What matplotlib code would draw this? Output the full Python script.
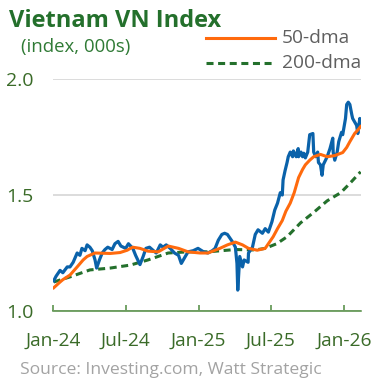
import pandas as pd
import matplotlib.pyplot as plt
import matplotlib.dates as mdates
from matplotlib.lines import Line2D

# VN Index daily close (000s)
index_dates = [
    "2024-01-02", "2024-01-08", "2024-01-18", "2024-01-25", "2024-02-05", "2024-02-12",
    "2024-02-20", "2024-03-01", "2024-03-08", "2024-03-13", "2024-03-21", "2024-03-26",
    "2024-04-02", "2024-04-08", "2024-04-15", "2024-04-19", "2024-04-26", "2024-05-03",
    "2024-05-10", "2024-05-17", "2024-05-28", "2024-06-04", "2024-06-12", "2024-06-19",
    "2024-07-01", "2024-07-08", "2024-07-19", "2024-07-26", "2024-08-06", "2024-08-14",
    "2024-08-21", "2024-08-30", "2024-09-09", "2024-09-16", "2024-09-26", "2024-10-03",
    "2024-10-11", "2024-10-21", "2024-11-01", "2024-11-11", "2024-11-18", "2024-11-28",
    "2024-12-05", "2024-12-18", "2024-12-30", "2025-01-13", "2025-01-24", "2025-02-04",
    "2025-02-11", "2025-02-19", "2025-02-28", "2025-03-07", "2025-03-14", "2025-03-26",
    "2025-04-03", "2025-04-07", "2025-04-09", "2025-04-14", "2025-04-21", "2025-04-25",
    "2025-05-05", "2025-05-06", "2025-05-16", "2025-05-23", "2025-05-30", "2025-06-10",
    "2025-06-17", "2025-06-25", "2025-07-04", "2025-07-11", "2025-07-18", "2025-07-25",
    "2025-07-30", "2025-08-01", "2025-08-06", "2025-08-11", "2025-08-14", "2025-08-19",
    "2025-08-25", "2025-08-27", "2025-09-03", "2025-09-08", "2025-09-09", "2025-09-15",
    "2025-09-19", "2025-09-22", "2025-09-26", "2025-10-02", "2025-10-07", "2025-10-15",
    "2025-10-17", "2025-10-22", "2025-10-27", "2025-10-29", "2025-11-03", "2025-11-07",
    "2025-11-10", "2025-11-20", "2025-11-27", "2025-12-04", "2025-12-05", "2025-12-09",
    "2025-12-15", "2025-12-19", "2025-12-26", "2025-12-29", "2026-01-05", "2026-01-08",
    "2026-01-12", "2026-01-16", "2026-01-21", "2026-01-23", "2026-01-28", "2026-02-02",
    "2026-02-05", "2026-02-10", "2026-02-12",
]
index_vals = [
    1.130, 1.150, 1.175, 1.165, 1.190, 1.190,
    1.210, 1.250, 1.240, 1.270, 1.260, 1.285,
    1.275, 1.260, 1.220, 1.185, 1.220, 1.250,
    1.265, 1.275, 1.265, 1.290, 1.300, 1.280,
    1.270, 1.290, 1.270, 1.240, 1.200, 1.235,
    1.270, 1.275, 1.260, 1.250, 1.285, 1.275,
    1.285, 1.270, 1.250, 1.240, 1.205, 1.235,
    1.255, 1.260, 1.270, 1.255, 1.250, 1.260,
    1.270, 1.305, 1.330, 1.335, 1.330, 1.300,
    1.275, 1.205, 1.090, 1.235, 1.190, 1.220,
    1.210, 1.250, 1.275, 1.330, 1.350, 1.335,
    1.355, 1.340, 1.385, 1.435, 1.465, 1.510,
    1.500, 1.565, 1.605, 1.640, 1.665, 1.685,
    1.665, 1.690, 1.665, 1.700, 1.665, 1.685,
    1.665, 1.680, 1.660, 1.685, 1.760, 1.765,
    1.685, 1.665, 1.685, 1.640, 1.630, 1.585,
    1.630, 1.665, 1.700, 1.745, 1.685, 1.650,
    1.685, 1.730, 1.770, 1.760, 1.830, 1.890,
    1.900, 1.890, 1.845, 1.830, 1.815, 1.800,
    1.765, 1.830, 1.800,
]

# 50-day moving average
dma50_dates = [
    "2024-01-02", "2024-01-18", "2024-01-25", "2024-02-12", "2024-03-01", "2024-03-16",
    "2024-03-26", "2024-04-08", "2024-04-15", "2024-05-23", "2024-06-17", "2024-07-05",
    "2024-07-13", "2024-07-19", "2024-08-06", "2024-08-26", "2024-09-21", "2024-10-16",
    "2024-11-11", "2024-12-05", "2025-01-04", "2025-01-24", "2025-02-23", "2025-03-14",
    "2025-04-03", "2025-04-21", "2025-05-06", "2025-05-28", "2025-06-17", "2025-07-07",
    "2025-07-18", "2025-07-30", "2025-08-08", "2025-08-19", "2025-08-29", "2025-09-09",
    "2025-09-19", "2025-09-26", "2025-10-07", "2025-10-17", "2025-11-03", "2025-11-20",
    "2025-12-09", "2025-12-29", "2026-01-08", "2026-01-16", "2026-01-28", "2026-02-05",
    "2026-02-12",
]
dma50_vals = [
    1.100, 1.125, 1.135, 1.155, 1.190, 1.220,
    1.235, 1.245, 1.250, 1.248, 1.252, 1.262,
    1.270, 1.275, 1.270, 1.258, 1.255, 1.280,
    1.270, 1.255, 1.250, 1.250, 1.270, 1.285,
    1.297, 1.285, 1.270, 1.262, 1.270, 1.320,
    1.355, 1.390, 1.430, 1.465, 1.510, 1.575,
    1.610, 1.630, 1.650, 1.665, 1.675, 1.665,
    1.670, 1.683, 1.705, 1.730, 1.765, 1.780,
    1.795,
]

# 200-day moving average
dma200_dates = [
    "2024-01-02", "2024-02-12", "2024-04-02", "2024-05-23", "2024-07-13", "2024-08-26",
    "2024-10-16", "2024-12-05", "2025-01-24", "2025-04-03", "2025-05-23", "2025-06-17",
    "2025-07-16", "2025-08-11", "2025-09-14", "2025-10-17", "2025-11-20", "2025-12-24",
    "2026-01-16", "2026-02-12",
]
dma200_vals = [
    1.125, 1.147, 1.177, 1.185, 1.198, 1.220,
    1.250, 1.255, 1.255, 1.265, 1.263, 1.270,
    1.290, 1.320, 1.380, 1.425, 1.475, 1.510,
    1.550, 1.600,
]

month_ticks = ["2024-01-01", "2024-07-01", "2025-01-01", "2025-07-01", "2026-01-01"]
month_labels = ["Jan-24", "Jul-24", "Jan-25", "Jul-25", "Jan-26"]

BLUE = "#0a62aa"
ORANGE = "#ff6a0d"
GREEN = "#24702c"
TXT_GREEN = "#3a6b28"
GREY = "#5f5f5f"

plt.rcParams["font.family"] = ["Open Sans", "DejaVu Sans"]

W, H = 373, 386
fig = plt.figure(figsize=(W / 100, H / 100), dpi=100)
ax = fig.add_axes([53.3 / W, 1 - 311 / H, (361 - 53.3) / W, (311 - 79) / H])

ax.plot(pd.to_datetime(dma200_dates), dma200_vals, color=GREEN, lw=2.2,
        dashes=(2.3, 1.5), zorder=2)
ax.plot(pd.to_datetime(index_dates), index_vals, color=BLUE, lw=2.3, zorder=3)
ax.plot(pd.to_datetime(dma50_dates), dma50_vals, color=ORANGE, lw=2.2, zorder=4)

ax.set_xlim(pd.Timestamp("2024-01-01"), pd.Timestamp("2026-02-13"))
ax.set_ylim(1.0, 2.0)
ax.set_yticks([1.0, 1.5, 2.0])
ax.set_yticklabels(["1.0", "1.5", "2.0"])
ax.set_xticks(pd.to_datetime(month_ticks))
ax.set_xticklabels(month_labels)

ax.grid(axis="y", color="#d9d9d9", lw=1.3)
ax.set_axisbelow(True)
for s in ["top", "right", "left"]:
    ax.spines[s].set_visible(False)
ax.spines["bottom"].set_color("#4e8a3e")
ax.spines["bottom"].set_linewidth(1.1)
ax.tick_params(axis="x", direction="in", length=4, width=1.1, color="#4e8a3e",
               labelsize=13.8, labelcolor=TXT_GREEN, pad=15)
ax.tick_params(axis="y", length=0, labelsize=14, labelcolor=TXT_GREEN, pad=14.5)

# title block
fig.text(9 / W, 1 - 27 / H, "Vietnam VN Index", color=GREEN, fontsize=17,
         fontweight="bold", va="baseline", ha="left")
fig.text(21 / W, 1 - 47 / H, "(index, 000s)", color="#2f7a35", fontsize=13.4,
         va="center", ha="left")

# legend drawn by hand
fig.add_artist(Line2D([206 / W, 275 / W], [1 - 38 / H] * 2, color=ORANGE, lw=2.2))
fig.add_artist(Line2D([206 / W, 275 / W], [1 - 63 / H] * 2, color=GREEN, lw=2.2,
                      dashes=(2.3, 1.5)))
fig.text(282 / W, 1 - 38 / H, "50-dma", color=GREY, fontsize=13.8, va="center", ha="left")
fig.text(282 / W, 1 - 63 / H, "200-dma", color=GREY, fontsize=13.8, va="center", ha="left")

fig.text(20 / W, 1 - 370 / H, "Source: Investing.com, Watt Strategic", color="#a3a3a3",
         fontsize=12.6, va="center", ha="left")

fig.savefig("out.png", dpi=100)
